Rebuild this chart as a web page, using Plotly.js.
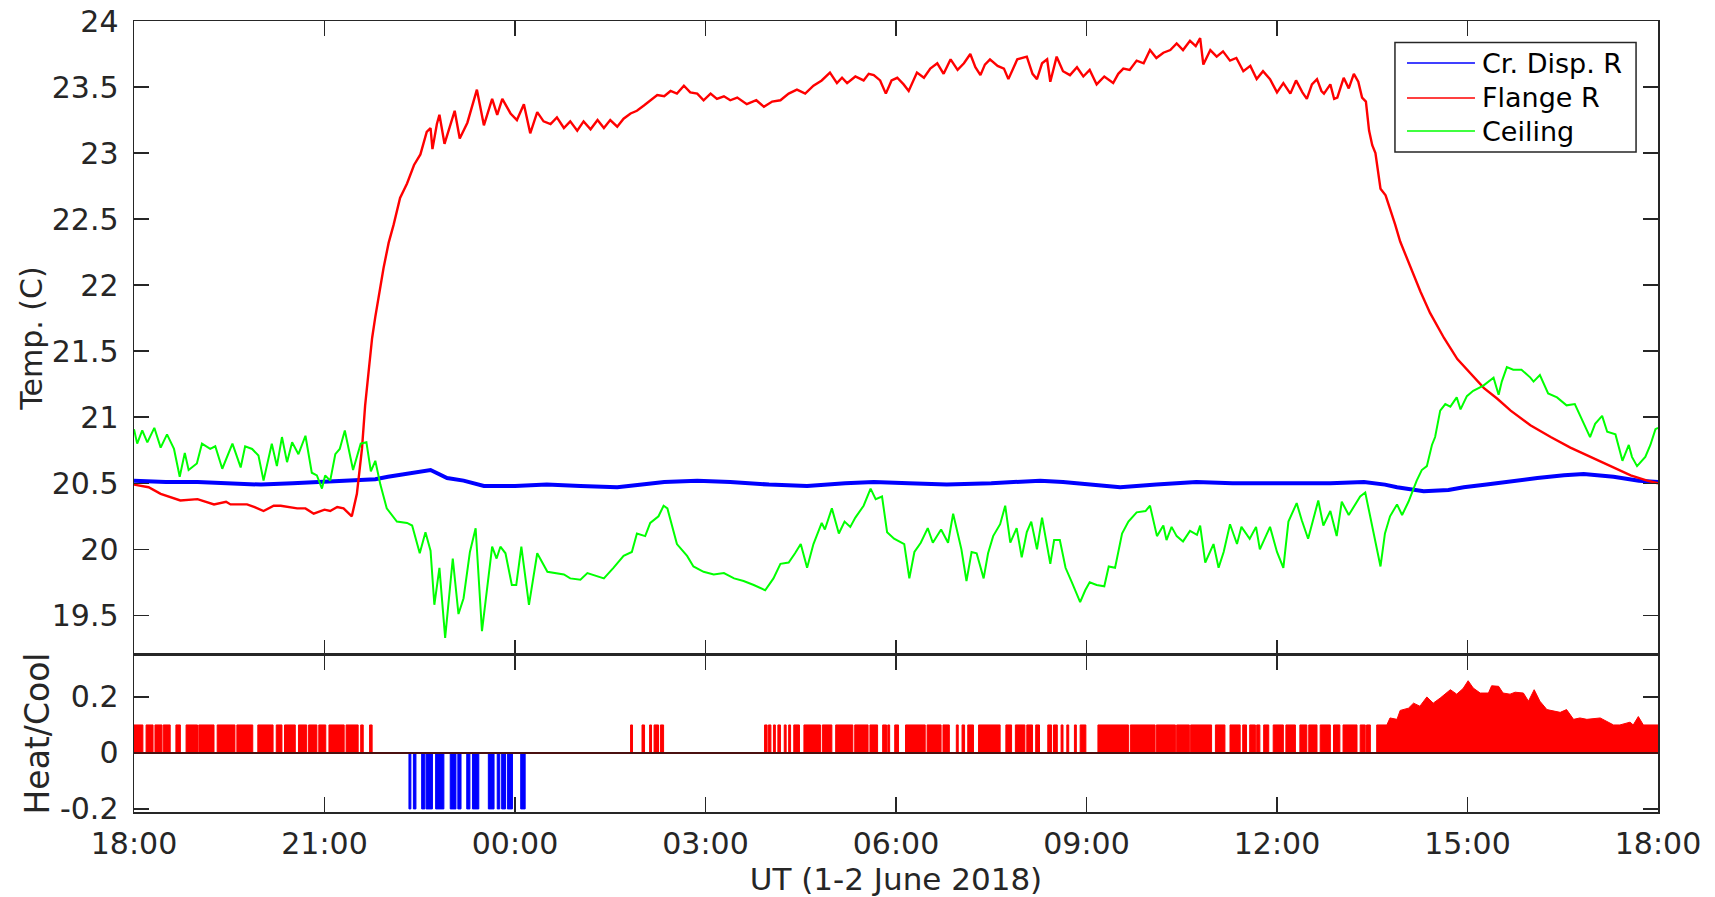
<!DOCTYPE html>
<html>
<head>
<meta charset="utf-8">
<script src="https://cdn.plot.ly/plotly-3.0.1.min.js"></script>
<style>html,body{margin:0;padding:0;background:#fff;}#chart{width:1715px;height:897px;}</style>
</head>
<body>
<div id="chart"></div>
<script>
// ---- DATA (time in hours after 18:00 UT, 1 June 2018) ----
const flangeT = [0,0.23,0.42,0.55,0.73,1.0,1.26,1.45,1.52,1.78,1.9,2.04,2.2,2.31,2.57,2.7,2.83,3.0,3.09,3.2,3.3,3.43,3.51,3.59,3.64,3.7,3.75,3.8,3.85,3.93,4.01,4.09,4.19,4.3,4.41,4.51,4.61,4.67,4.7,4.77,4.81,4.89,5.05,5.13,5.25,5.4,5.51,5.64,5.72,5.8,5.93,6.03,6.14,6.24,6.35,6.45,6.56,6.66,6.77,6.87,6.98,7.08,7.19,7.3,7.4,7.5,7.61,7.71,7.82,7.92,8.03,8.14,8.24,8.35,8.45,8.55,8.66,8.76,8.87,8.97,9.08,9.18,9.29,9.39,9.5,9.65,9.8,9.92,10.05,10.18,10.31,10.44,10.57,10.7,10.83,10.96,11.07,11.15,11.23,11.36,11.49,11.57,11.65,11.75,11.84,11.93,12.02,12.12,12.2,12.33,12.44,12.54,12.65,12.75,12.86,12.97,13.07,13.17,13.25,13.33,13.4,13.48,13.6,13.7,13.77,13.91,14.06,14.15,14.22,14.3,14.38,14.43,14.53,14.63,14.74,14.85,14.95,15.05,15.16,15.28,15.42,15.5,15.58,15.68,15.79,15.9,16.0,16.1,16.21,16.32,16.42,16.52,16.63,16.72,16.79,16.84,16.95,17.05,17.15,17.26,17.36,17.47,17.58,17.68,17.78,17.89,18.0,18.1,18.21,18.3,18.4,18.47,18.55,18.63,18.7,18.74,18.84,18.9,18.95,19.05,19.13,19.21,19.28,19.34,19.4,19.45,19.5,19.55,19.63,19.71,19.79,19.86,19.94,20.1,20.26,20.41,20.63,20.84,21.05,21.26,21.47,21.68,21.99,22.31,22.62,22.94,23.25,23.57,23.83,24.0];
const flangeV = [20.49,20.47,20.42,20.40,20.37,20.38,20.34,20.36,20.34,20.34,20.32,20.29,20.33,20.33,20.31,20.31,20.27,20.30,20.29,20.32,20.31,20.25,20.42,20.76,21.09,21.37,21.60,21.76,21.90,22.13,22.32,22.46,22.66,22.77,22.91,22.99,23.16,23.19,23.03,23.22,23.29,23.07,23.32,23.11,23.23,23.48,23.21,23.41,23.29,23.41,23.30,23.25,23.37,23.15,23.31,23.24,23.22,23.27,23.19,23.24,23.17,23.24,23.18,23.25,23.19,23.25,23.20,23.26,23.30,23.32,23.36,23.40,23.44,23.43,23.47,23.45,23.51,23.46,23.45,23.40,23.45,23.41,23.43,23.40,23.42,23.37,23.40,23.35,23.39,23.40,23.45,23.48,23.45,23.51,23.55,23.61,23.53,23.57,23.53,23.58,23.55,23.60,23.59,23.55,23.45,23.55,23.57,23.52,23.47,23.61,23.57,23.64,23.68,23.60,23.71,23.63,23.68,23.75,23.65,23.59,23.67,23.71,23.66,23.64,23.56,23.71,23.73,23.60,23.56,23.68,23.71,23.54,23.73,23.62,23.59,23.65,23.58,23.63,23.52,23.58,23.53,23.60,23.64,23.63,23.70,23.68,23.78,23.72,23.76,23.78,23.83,23.78,23.85,23.81,23.87,23.67,23.78,23.73,23.77,23.70,23.72,23.62,23.66,23.56,23.62,23.56,23.46,23.53,23.45,23.55,23.46,23.41,23.52,23.56,23.47,23.45,23.52,23.41,23.42,23.57,23.49,23.60,23.54,23.42,23.39,23.17,23.06,23.00,22.73,22.68,22.57,22.46,22.33,22.14,21.95,21.79,21.60,21.44,21.33,21.22,21.14,21.05,20.94,20.85,20.77,20.70,20.63,20.56,20.52,20.50];

const dispT = [0,0.5,1.0,1.5,2.0,2.5,3.0,3.5,3.8,4.0,4.25,4.5,4.67,4.8,4.93,5.19,5.35,5.51,6.0,6.5,7.03,7.61,8.0,8.35,8.87,9.39,10.0,10.6,11.2,11.65,12.2,12.8,13.5,14.27,14.63,15.1,15.53,16.1,16.73,17.3,17.78,18.4,18.84,19.37,19.7,19.89,20.31,20.7,20.94,21.3,21.73,22.1,22.52,22.83,23.3,23.7,24.0];
const dispV = [20.52,20.51,20.51,20.50,20.49,20.50,20.51,20.52,20.53,20.55,20.57,20.59,20.60,20.57,20.54,20.52,20.50,20.48,20.48,20.49,20.48,20.47,20.49,20.51,20.52,20.51,20.49,20.48,20.50,20.51,20.50,20.49,20.50,20.52,20.51,20.49,20.47,20.49,20.51,20.50,20.50,20.50,20.50,20.51,20.49,20.47,20.44,20.45,20.47,20.49,20.52,20.54,20.56,20.57,20.55,20.52,20.51];

const ceilT = [0,0.05,0.13,0.21,0.32,0.42,0.52,0.63,0.72,0.8,0.86,0.99,1.07,1.2,1.28,1.39,1.55,1.68,1.75,1.86,1.96,2.04,2.17,2.25,2.33,2.41,2.49,2.59,2.7,2.8,2.88,2.96,3.01,3.09,3.17,3.24,3.32,3.45,3.57,3.66,3.73,3.8,3.88,3.98,4.14,4.3,4.38,4.5,4.59,4.67,4.73,4.81,4.9,5.02,5.11,5.19,5.29,5.38,5.48,5.64,5.71,5.77,5.85,5.95,6.02,6.1,6.22,6.35,6.51,6.77,6.87,7.03,7.14,7.4,7.55,7.71,7.84,7.92,8.05,8.13,8.26,8.34,8.4,8.55,8.71,8.81,8.97,9.13,9.29,9.45,9.6,9.76,9.94,10.07,10.18,10.31,10.41,10.5,10.6,10.7,10.83,10.88,10.99,11.1,11.19,11.28,11.36,11.49,11.6,11.68,11.78,11.86,11.97,12.13,12.21,12.29,12.39,12.5,12.58,12.71,12.82,12.9,13.03,13.11,13.19,13.27,13.38,13.45,13.53,13.64,13.72,13.8,13.9,13.98,14.06,14.13,14.22,14.3,14.43,14.49,14.58,14.67,14.77,14.9,14.98,15.05,15.16,15.28,15.35,15.45,15.56,15.66,15.79,15.93,16.0,16.11,16.21,16.26,16.34,16.42,16.52,16.63,16.74,16.79,16.87,17.0,17.08,17.16,17.26,17.37,17.44,17.57,17.67,17.73,17.89,18.0,18.1,18.18,18.31,18.39,18.49,18.65,18.73,18.84,18.94,19.02,19.13,19.23,19.31,19.39,19.49,19.63,19.7,19.78,19.89,19.97,20.07,20.2,20.28,20.36,20.44,20.49,20.57,20.65,20.73,20.83,20.89,20.99,21.09,21.25,21.41,21.49,21.54,21.62,21.72,21.85,21.99,22.04,22.14,22.27,22.41,22.56,22.69,22.83,22.93,23.01,23.12,23.2,23.33,23.44,23.54,23.59,23.67,23.8,23.88,23.96,24.0];
const ceilV = [20.91,20.80,20.90,20.81,20.92,20.77,20.87,20.76,20.55,20.73,20.60,20.65,20.80,20.76,20.78,20.61,20.80,20.62,20.78,20.76,20.71,20.52,20.80,20.63,20.85,20.66,20.81,20.72,20.86,20.58,20.56,20.46,20.56,20.52,20.72,20.76,20.90,20.60,20.80,20.81,20.59,20.67,20.49,20.31,20.21,20.20,20.18,19.97,20.13,19.99,19.58,19.86,19.33,19.93,19.51,19.63,19.98,20.16,19.38,20.02,19.93,20.02,19.97,19.73,19.73,20.02,19.58,19.97,19.83,19.81,19.78,19.77,19.82,19.78,19.86,19.95,19.98,20.12,20.10,20.20,20.25,20.33,20.31,20.04,19.95,19.87,19.83,19.81,19.82,19.78,19.76,19.73,19.69,19.78,19.89,19.90,19.97,20.04,19.86,20.04,20.20,20.15,20.31,20.12,20.21,20.17,20.24,20.33,20.46,20.38,20.40,20.13,20.08,20.04,19.78,19.98,20.05,20.16,20.05,20.15,20.05,20.27,20.00,19.76,19.98,19.97,19.78,19.97,20.10,20.19,20.33,20.05,20.16,19.94,20.13,20.21,20.00,20.24,19.89,20.07,20.07,19.86,19.75,19.60,19.69,19.75,19.73,19.72,19.87,19.86,20.12,20.21,20.28,20.29,20.33,20.10,20.18,20.07,20.17,20.10,20.06,20.14,20.11,20.18,19.90,20.04,19.86,19.98,20.19,20.04,20.17,20.08,20.17,20.00,20.17,19.98,19.86,20.21,20.35,20.22,20.08,20.37,20.18,20.29,20.10,20.36,20.26,20.34,20.40,20.43,20.19,19.87,20.12,20.25,20.34,20.26,20.36,20.52,20.60,20.63,20.79,20.85,21.05,21.10,21.08,21.15,21.06,21.16,21.20,21.24,21.30,21.17,21.27,21.38,21.36,21.36,21.30,21.27,21.32,21.18,21.15,21.09,21.10,20.95,20.85,20.95,21.01,20.89,20.87,20.67,20.79,20.70,20.63,20.70,20.79,20.91,20.92];

// Heater on-intervals (hours) at the normal heating level
const HEAT_LEVEL = 0.1;
const heatOn = [[0,0.14],[0.19,0.30],[0.33,0.44],[0.46,0.57],[0.66,0.73],[0.82,1.0],[1.02,1.26],[1.31,1.59],[1.62,1.87],[1.95,2.19],[2.24,2.33],[2.37,2.54],[2.59,2.72],[2.75,2.88],[2.91,3.02],[3.07,3.31],[3.34,3.53],[3.57,3.61],[3.71,3.75],
  [7.82,7.85],[8.0,8.04],[8.12,8.15],[8.19,8.26],[8.29,8.34],
  [9.93,9.97],[9.99,10.03],[10.07,10.10],[10.14,10.18],[10.24,10.27],[10.31,10.34],[10.39,10.48],[10.55,10.81],[10.84,10.99],[11.05,11.32],[11.35,11.56],[11.59,11.71],[11.79,11.85],[11.87,11.90],[11.98,12.04],[12.15,12.46],[12.49,12.71],[12.74,12.84],[12.95,12.98],[13.04,13.08],[13.13,13.22],[13.30,13.64],[13.73,13.82],[13.88,14.03],[14.06,14.15],[14.20,14.26],[14.39,14.45],[14.48,14.54],[14.60,14.63],[14.69,14.72],[14.81,14.84],[14.90,14.99],[15.18,15.66],[15.69,16.08],[16.10,16.40],[16.42,16.62],[16.64,16.97],[17.03,17.18],[17.26,17.42],[17.46,17.52],[17.57,17.66],[17.68,17.73],[17.79,17.87],[17.94,18.10],[18.14,18.29],[18.36,18.47],[18.50,18.63],[18.68,18.84],[18.89,18.99],[19.04,19.26],[19.31,19.39],[19.41,19.47]];
// Continuous heating at the end of the period (hours, heater output)
const heatEnvT = [19.57,19.57,19.73,19.78,19.89,19.94,20.07,20.15,20.25,20.36,20.46,20.57,20.73,20.83,20.93,21.01,21.09,21.20,21.33,21.38,21.49,21.56,21.67,21.75,21.88,21.96,22.05,22.14,22.25,22.35,22.46,22.56,22.67,22.77,22.88,23.09,23.30,23.40,23.56,23.61,23.69,23.77,24.0];
const heatEnvV = [0,0.10,0.10,0.125,0.12,0.152,0.16,0.178,0.167,0.20,0.178,0.196,0.226,0.21,0.23,0.258,0.232,0.214,0.214,0.24,0.238,0.214,0.21,0.217,0.214,0.185,0.226,0.185,0.155,0.15,0.145,0.155,0.12,0.125,0.12,0.125,0.10,0.10,0.11,0.10,0.13,0.10,0.10];
// Cooler on-intervals (hours)
const COOL_LEVEL = -0.2;
const coolOn = [[4.33,4.36],[4.40,4.44],[4.53,4.58],[4.60,4.70],[4.75,4.88],[4.98,5.07],[5.10,5.15],[5.24,5.29],[5.33,5.43],[5.58,5.67],[5.72,5.76],[5.79,5.85],[5.88,5.96],[6.09,6.16]];

// ---- helpers ----
const T0 = Date.UTC(2018, 5, 1, 18, 0, 0);
function hd(h){ return new Date(T0 + Math.round(h*3600000)).toISOString().replace('T',' ').slice(0,19); }
function pulses(list, level){
  const x=[], y=[];
  list.forEach(([s,e])=>{ x.push(hd(s),hd(s),hd(e),hd(e)); y.push(0,level,level,0); });
  return {x,y};
}
const hp = pulses(heatOn, HEAT_LEVEL);
heatEnvT.forEach((t,i)=>{ hp.x.push(hd(t)); hp.y.push(heatEnvV[i]); });
const cp = pulses(coolOn, COOL_LEVEL);

const FONT = 'DejaVu Sans, Verdana, sans-serif';
const AX = '#262626';

const traces = [
  {x: dispT.map(hd), y: dispV, type:'scatter', mode:'lines', line:{color:'#0000ff', width:4}, xaxis:'x', yaxis:'y', showlegend:false, hoverinfo:'skip'},
  {x: flangeT.map(hd), y: flangeV, type:'scatter', mode:'lines', line:{color:'#ff0000', width:2.4}, xaxis:'x', yaxis:'y', showlegend:false, hoverinfo:'skip'},
  {x: ceilT.map(hd), y: ceilV, type:'scatter', mode:'lines', line:{color:'#00ff00', width:2}, xaxis:'x', yaxis:'y', showlegend:false, hoverinfo:'skip'},
  {x: hp.x, y: hp.y, type:'scatter', mode:'lines', fill:'tozeroy', fillcolor:'#ff0000', line:{color:'#ff0000', width:1}, xaxis:'x2', yaxis:'y2', showlegend:false, hoverinfo:'skip'},
  {x: cp.x, y: cp.y, type:'scatter', mode:'lines', fill:'tozeroy', fillcolor:'#0000ff', line:{color:'#0000ff', width:1}, xaxis:'x2', yaxis:'y2', showlegend:false, hoverinfo:'skip'}
];

const commonX = {
  type:'date', range:[hd(0), hd(24)], tick0:hd(0), dtick:3*3600000, tickformat:'%H:%M',
  ticks:'inside', ticklen:15, tickwidth:1.5, tickcolor:AX,
  showline:true, linecolor:AX, linewidth:1.5, mirror:'ticks', showgrid:false, zeroline:false,
  tickfont:{family:FONT, size:30, color:AX}
};
const commonY = {
  ticks:'inside', ticklen:15, tickwidth:1.5, tickcolor:AX,
  showline:true, linecolor:AX, linewidth:1.5, mirror:'ticks', showgrid:false,
  tickfont:{family:FONT, size:30, color:AX}, ticklabelstandoff:8
};
const SPLIT = 0.1985;

// custom legend geometry (paper coords)
const LB = {x0:0.8274, x1:0.9856, y0:0.8344, y1:0.9728};
const legItems = [['Cr. Disp. R','#0000ff',0.9469],['Flange R','#ff0000',0.9027],['Ceiling','#00ff00',0.8609]];
const shapes = [
  {type:'line', xref:'paper', yref:'y2', x0:0, x1:1, y0:0, y1:0, line:{color:'#4a1010', width:2}, layer:'above'},
  {type:'rect', xref:'paper', yref:'paper', x0:LB.x0, x1:LB.x1, y0:LB.y0, y1:LB.y1, fillcolor:'#ffffff', line:{color:AX, width:1.5}, layer:'above'}
];
const annotations = [];
legItems.forEach(([name,col,yy])=>{
  shapes.push({type:'line', xref:'paper', yref:'paper', x0:0.8353, x1:0.8799, y0:yy, y1:yy, line:{color:col, width:1.5}, layer:'above'});
  annotations.push({xref:'paper', yref:'paper', x:0.8835, y:yy, xanchor:'left', yanchor:'middle', text:name, showarrow:false, font:{family:FONT, size:27, color:'#000000'}});
});

const layout = {
  width:1715, height:897,
  margin:{l:134, r:57, t:21, b:85},
  paper_bgcolor:'#ffffff', plot_bgcolor:'#ffffff',
  showlegend:false,
  font:{family:FONT, color:AX},
  xaxis: Object.assign({}, commonX, {anchor:'y', domain:[0,1], showticklabels:false}),
  xaxis2: Object.assign({}, commonX, {anchor:'y2', domain:[0,1], matches:'x', showticklabels:true, ticklabelstandoff:4,
    title:{text:'UT (1-2 June 2018)', font:{family:FONT, size:31, color:AX}, standoff:10}}),
  yaxis: Object.assign({}, commonY, {anchor:'x', domain:[SPLIT,1], range:[19.2,24], tick0:19.5, dtick:0.5, zeroline:false,
    title:{text:'Temp. (C)', font:{family:FONT, size:30, color:AX}, standoff:0}}),
  yaxis2: Object.assign({}, commonY, {anchor:'x2', domain:[0,SPLIT], range:[-0.211,0.35], tickmode:'array', tickvals:[-0.2,0,0.2], ticktext:['-0.2','0','0.2'], zeroline:false,
    title:{text:'Heat/Cool', font:{family:FONT, size:33, color:AX}, standoff:0}}),
  shapes: shapes,
  annotations: annotations
};

Plotly.newPlot('chart', traces, layout, {displayModeBar:false, staticPlot:true});
</script>
</body>
</html>
